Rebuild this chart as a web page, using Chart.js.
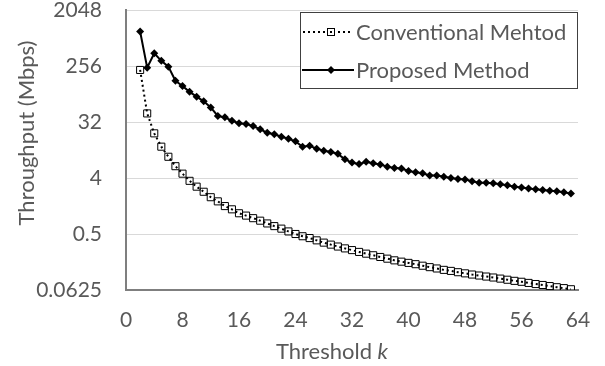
<!DOCTYPE html>
<html><head><meta charset="utf-8">
<script src="https://cdn.jsdelivr.net/npm/chart.js@4/dist/chart.umd.min.js"></script>
<style>html,body{margin:0;padding:0;background:#fff}#wrap{width:605px;height:366px;position:relative}</style>
</head><body><div id="wrap"><canvas id="c"></canvas></div>
<script>
const thresholds = [2,3,4,5,6,7,8,9,10,11,12,13,14,15,16,17,18,19,20,21,22,23,24,25,26,27,28,29,30,31,32,33,34,35,36,37,38,39,40,41,42,43,44,45,46,47,48,49,50,51,52,53,54,55,56,57,58,59,60,61,62,63];
const conventional = [221,44,21,12.8,8.8,6.2,4.7,3.6,2.9,2.4,1.96,1.68,1.41,1.25,1.08,0.99,0.90,0.82,0.74,0.67,0.61,0.55,0.50,0.46,0.43,0.395,0.363,0.337,0.314,0.293,0.275,0.257,0.241,0.227,0.213,0.200,0.188,0.179,0.171,0.163,0.154,0.146,0.139,0.132,0.127,0.121,0.116,0.111,0.107,0.103,0.0994,0.0954,0.0915,0.0878,0.0848,0.0813,0.078,0.0753,0.0723,0.0693,0.067,0.0643];
const proposed = [920,240,410,310,250,148,122,98,82,69,55,40,38,33.5,30.5,29.7,27.6,24.4,21.5,20.3,18.5,17.2,15.6,12.8,13.2,11.9,11,10.5,9.8,8,7.1,6.7,7.3,6.9,6.6,6.1,5.8,5.7,5.2,4.95,4.77,4.4,4.4,4.2,4.0,3.86,3.8,3.54,3.36,3.36,3.29,3.17,3.05,2.9,2.8,2.7,2.63,2.57,2.5,2.45,2.36,2.24];
const yTickValues = [0.0625,0.5,4,32,256,2048];
const xTickValues = [0,8,16,24,32,40,48,56,64];
const seriesNames = ['Conventional Mehtod','Proposed Method'];
const yTitle = 'Throughput (Mbps)';
const xTitle = 'Threshold ';
const xTitleItalic = 'k';

const FONT = "Lato, 'Open Sans', sans-serif";
const TXT = '#595959';
const TS = 22;

const toPts = arr => thresholds.map((k,i)=>({x:k,y:arr[i]}));

const overlay = {
  id:'overlay',
  afterDraw(chart){
    const ctx = chart.ctx;
    ctx.save();
    ctx.fillStyle = TXT;
    ctx.font = `${TS}px ${FONT}`;
    // y title
    ctx.save();
    ctx.translate(27,133);
    ctx.rotate(-Math.PI/2);
    ctx.textAlign='center'; ctx.textBaseline='middle';
    ctx.fillText(yTitle,0,0);
    ctx.restore();
    // x title
    ctx.textAlign='left'; ctx.textBaseline='alphabetic';
    const w1 = ctx.measureText(xTitle).width;
    ctx.font = `italic ${TS}px ${FONT}`;
    const w2 = ctx.measureText(xTitleItalic).width;
    const cx = 332, x0 = cx - (w1+w2)/2;
    ctx.font = `${TS}px ${FONT}`;
    ctx.fillText(xTitle,x0,359);
    ctx.font = `italic ${TS}px ${FONT}`;
    ctx.fillText(xTitleItalic,x0+w1,359);
    // legend
    ctx.fillStyle='#fff';
    ctx.fillRect(300,12,278,76);
    ctx.strokeStyle='#404040'; ctx.lineWidth=1;
    ctx.strokeRect(300.5,12.5,277,76);
    const rows=[32,70];
    ctx.strokeStyle='#000'; ctx.lineWidth=2; ctx.setLineDash([2,3]);
    ctx.beginPath(); ctx.moveTo(303,rows[0]); ctx.lineTo(353,rows[0]); ctx.stroke();
    ctx.setLineDash([]);
    ctx.fillStyle='#fff'; ctx.fillRect(327.5,rows[0]-3.5,7,7);
    ctx.lineWidth=1; ctx.strokeRect(327.5,rows[0]-3.5,7,7);
    ctx.fillStyle='#000'; ctx.fillRect(330,rows[0]-1,2,2);
    ctx.lineWidth=2;
    ctx.beginPath(); ctx.moveTo(302,rows[1]); ctx.lineTo(354,rows[1]); ctx.stroke();
    ctx.beginPath(); ctx.moveTo(331,rows[1]-4); ctx.lineTo(335,rows[1]); ctx.lineTo(331,rows[1]+4); ctx.lineTo(327,rows[1]); ctx.closePath(); ctx.fill();
    ctx.fillStyle=TXT; ctx.font=`${TS}px ${FONT}`; ctx.textBaseline='middle';
    ctx.fillText(seriesNames[0],356,rows[0]+1);
    ctx.fillText(seriesNames[1],356,rows[1]+1);
    ctx.restore();
  }
};

new Chart(document.getElementById('c'),{
  type:'scatter',
  data:{datasets:[
    {label:seriesNames[0],data:toPts(conventional),showLine:true,borderColor:'#000',borderWidth:2,borderDash:[2,3],
     pointStyle:'rect',pointRadius:5,pointBackgroundColor:'rgba(0,0,0,0)',pointBorderColor:'#000',pointBorderWidth:1,tension:0},
    {label:seriesNames[1],data:toPts(proposed),showLine:true,borderColor:'#000',borderWidth:2,
     pointStyle:'rectRot',pointRadius:4,pointBackgroundColor:'#000',pointBorderColor:'#000',pointBorderWidth:0,tension:0}
  ]},
  options:{
    responsive:true,maintainAspectRatio:false,animation:false,devicePixelRatio:1,
    layout:{padding:{top:10,right:27,left:0,bottom:0}},
    plugins:{legend:{display:false},tooltip:{enabled:false}},
    scales:{
      x:{type:'linear',min:0,max:64,
         afterBuildTicks:s=>{s.ticks=xTickValues.map(v=>({value:v}));},
         afterFit:s=>{s.height=76;s.paddingLeft=0;s.paddingRight=0;},
         ticks:{color:TXT,font:{family:FONT,size:21},padding:18,maxRotation:0},
         grid:{display:false,drawTicks:false},
         border:{display:true,color:'#7f7f7f',width:2}},
      y:{type:'logarithmic',min:0.0625,max:2048,
         afterBuildTicks:s=>{s.ticks=yTickValues.map(v=>({value:v}));},
         afterFit:s=>{s.width=126;s.paddingTop=0;s.paddingBottom=0;},
         ticks:{color:TXT,font:{family:FONT,size:21},padding:24,callback:v=>String(v)},
         grid:{color:'#d9d9d9',lineWidth:1,drawTicks:false},
         border:{display:true,color:'#7f7f7f',width:2}}
    }
  },
  plugins:[overlay]
});
</script></body></html>
